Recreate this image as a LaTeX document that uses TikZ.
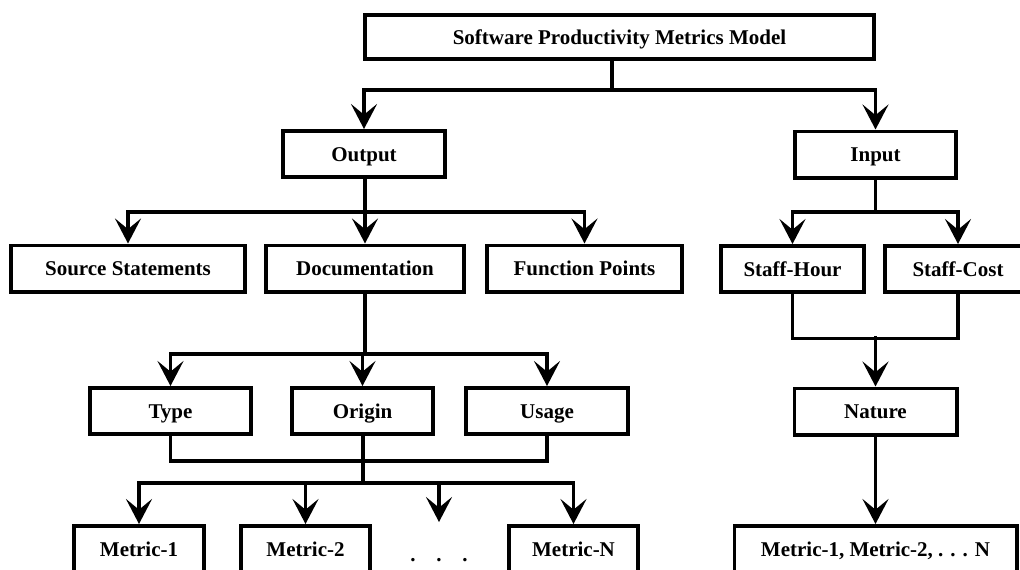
\documentclass[tikz,border=0pt]{standalone}
\usepackage{fontspec}
\setmainfont{Liberation Serif}
\usetikzlibrary{arrows.meta}
\begin{document}
\begin{tikzpicture}[x=0.75pt,y=-0.75pt,
  every node/.style={font=\fontsize{15.75}{18}\selectfont\bfseries},
  box/.style={draw, line width=2.7pt, inner sep=0pt, minimum height=34.8pt,
    text height=12.5pt, text depth=1.5pt},
  link/.style={line width=2.4pt},
  arr/.style={link, -{Stealth[length=18.75pt,width=19.5pt,inset=8pt]}}]
\useasboundingbox (0,0) rectangle (1020,569);

% top level
\node[box, minimum width=382pt, minimum height=33.3pt] (top) at (619.5,37) {Software Productivity Metrics Model};
\node[box, minimum width=121.8pt] (outp) at (364,154) {Output};
\node[box, minimum width=121pt] (inp) at (875.5,154.5) {Input};

% output measures
\node[box, minimum width=175.8pt] (src) at (128,268.5) {Source Statements};
\node[box, minimum width=148.8pt] (doc) at (365,268.5) {Documentation};
\node[box, minimum width=146.6pt] (fp) at (584.5,268.5) {Function Points};

% input measures
\node[box, minimum width=107.6pt] (sh) at (792.5,269) {Staff-Hour};
\node[box, minimum width=109.8pt] (sc) at (958,269) {Staff-Cost};

% documentation attributes
\node[box, minimum width=121pt] (type) at (170.5,411) {Type};
\node[box, minimum width=106pt] (origin) at (362.5,411) {Origin};
\node[box, minimum width=121.8pt] (usage) at (547,411) {Usage};
\node[box, minimum width=121.8pt] (nature) at (875.5,411.5) {Nature};

% metrics
\node[box, minimum width=97.8pt] (m1) at (139,549) {Metric-1};
\node[box, minimum width=97pt] (m2) at (305.5,549) {Metric-2};
\node (dots) at (439,560) {.\hspace{15.6pt}.\hspace{15.6pt}.};
\node[box, minimum width=97pt] (mN) at (573.5,549) {Metric-N};
\node[box, minimum width=211.8pt] (mall) at (875.5,549) {Metric-1, Metric-2, . . . N};

% junction points
\coordinate (j0) at (612,90);
\coordinate (j1) at (365,212);
\coordinate (j2) at (875.5,212);
\coordinate (j3) at (365,354);
\coordinate (j4) at (363,483);
\coordinate (j5) at (875.5,336);
\coordinate (dtip) at (439,522);

% model -> output / input
\draw[link] (top.south -| j0) -- (j0);
\draw[arr] (j0) -| (outp.north);
\draw[arr] (j0) -| (inp.north);

% output -> measures
\draw[link] (outp.south -| j1) -- (j1);
\draw[arr] (j1) -| (src.north);
\draw[arr] (j1) -- (doc.north);
\draw[arr] (j1) -| (fp.north);

% input -> measures
\draw[link] (inp.south) -- (j2);
\draw[arr] (j2) -| (sh.north);
\draw[arr] (j2) -| (sc.north);

% documentation -> attributes
\draw[link] (doc.south) -- (j3);
\draw[arr] (j3) -| (type.north);
\draw[arr] (j3) -| (origin.north);
\draw[arr] (j3) -| (usage.north);

% attributes -> metrics
\draw[link] (type.south) -- ++(0,25) -| (usage.south);
\draw[link] (origin.south -| j4) -- (j4);
\draw[arr] (j4) -| (m1.north);
\draw[arr] (j4) -| (m2.north);
\draw[arr] (j4) -| (dtip);
\draw[arr] (j4) -| (mN.north);

% staff measures -> nature -> metrics
\draw[link] (sh.south) -- ++(0,44.5) -| (sc.south);
\draw[arr] (j5) -- (nature.north);
\draw[arr] (nature.south) -- (mall.north);
\end{tikzpicture}
\end{document}
